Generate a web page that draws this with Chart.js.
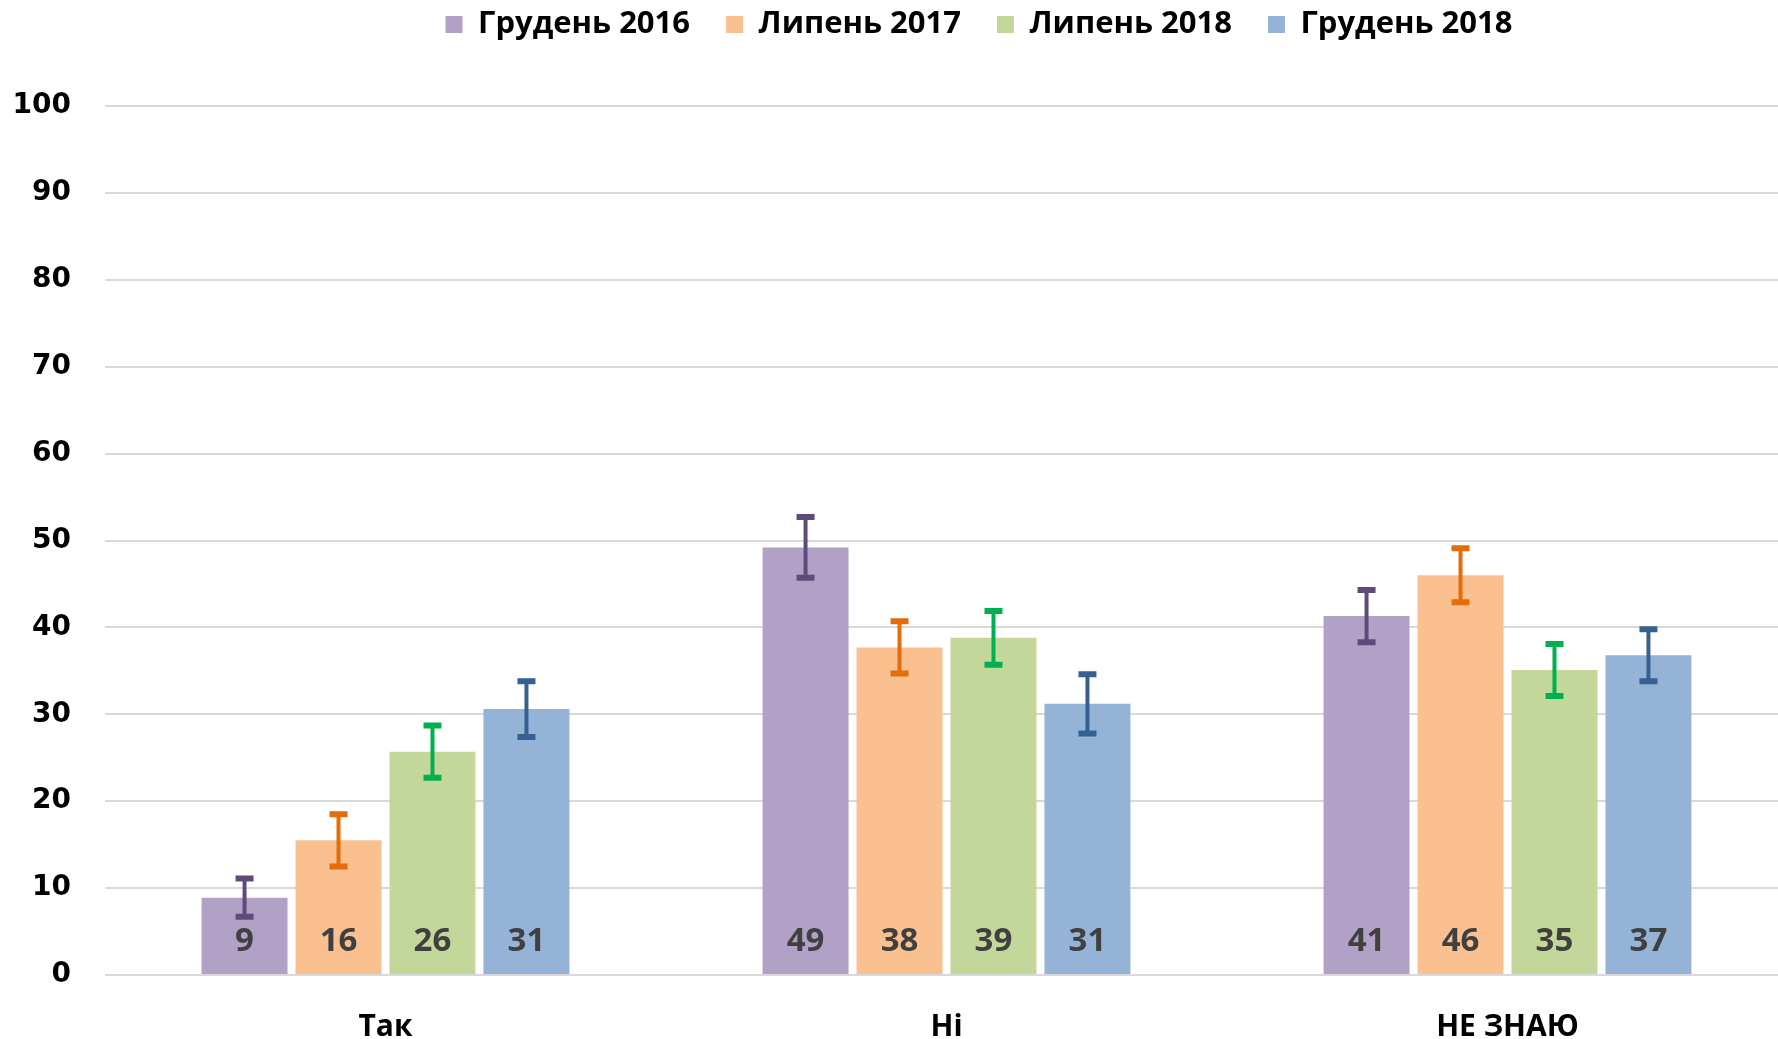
<!DOCTYPE html>
<html>
<head>
<meta charset="utf-8">
<script src="https://cdn.jsdelivr.net/npm/chart.js@4.4.1/dist/chart.umd.min.js"></script>
<style>
html,body{margin:0;padding:0;background:#fff;overflow:hidden}
#wrap{width:1792px;height:1039px}
</style>
</head>
<body>
<div id="wrap"><canvas id="chart-1"></canvas></div>
<script>
const categories=['Так','Ні','НЕ ЗНАЮ'];
const seriesNames=['Грудень 2016','Липень 2017','Липень 2018','Грудень 2018'];
const dec2016=[8.9,49.2,41.3];
const jul2017=[15.5,37.7,46.0];
const jul2018=[25.7,38.8,35.1];
const dec2018=[30.6,31.2,36.8];
const err2016=[2.2,3.5,3.0];
const err2017=[3.0,3.0,3.1];
const err2018=[3.0,3.1,3.0];
const errDec2018=[3.2,3.4,3.0];
const yTicks=[0,10,20,30,40,50,60,70,80,90,100];

const fills=['#b2a1c7','#fac090','#c4d79b','#95b3d7'];
const errColors=['#604a7b','#e46c0a','#00b050','#366092'];

// error bars drawn from the value arrays through the y scale
const errorBars={
  id:'errorBars',
  afterDatasetsDraw(chart){
    const {ctx,scales:{y}}=chart;
    chart.data.datasets.forEach((ds,i)=>{
      chart.getDatasetMeta(i).data.forEach((bar,j)=>{
        const v=ds.data[j],e=ds.err[j];
        const top=y.getPixelForValue(v+e),bot=y.getPixelForValue(v-e);
        ctx.save();
        ctx.strokeStyle=errColors[i];
        ctx.lineWidth=4;
        ctx.beginPath();ctx.moveTo(bar.x,top);ctx.lineTo(bar.x,bot);ctx.stroke();
        ctx.lineWidth=6;
        ctx.beginPath();
        ctx.moveTo(bar.x-9,top);ctx.lineTo(bar.x+9,top);
        ctx.moveTo(bar.x-9,bot);ctx.lineTo(bar.x+9,bot);
        ctx.stroke();
        ctx.restore();
      });
    });
  }
};

// rounded value near the base of each bar
const barLabels={
  id:'barLabels',
  afterDatasetsDraw(chart){
    const {ctx,scales:{y}}=chart;
    const base=y.getPixelForValue(0);
    ctx.save();
    ctx.font='bold 33px "Open Sans"';
    ctx.fillStyle='#404040';
    ctx.textAlign='center';
    ctx.textBaseline='middle';
    chart.data.datasets.forEach((ds,i)=>{
      chart.getDatasetMeta(i).data.forEach((bar,j)=>{
        ctx.fillText(Math.round(ds.data[j]),bar.x,base-33);
      });
    });
    ctx.restore();
  }
};

const legendShift={
  id:'legendShift',
  afterLayout(chart){
    const l=chart.legend;
    l.left+=78;l.right+=78;l.top-=56;l.bottom-=56;
  }
};

document.addEventListener('DOMContentLoaded',()=>{
  const ctx=document.getElementById('chart-1');
  const vals=[dec2016,jul2017,jul2018,dec2018];
  const errs=[err2016,err2017,err2018,errDec2018];
  const data={
    labels:categories,
    datasets:seriesNames.map((name,i)=>({
      label:name,data:vals[i],err:errs[i],
      backgroundColor:fills[i],borderWidth:0,
      categoryPercentage:.67,barPercentage:.915
    }))
  };
  const options={
    responsive:true,
    maintainAspectRatio:false,
    animation:false,
    layout:{padding:{left:14,right:4,top:29,bottom:0}},
    plugins:{
      legend:{
        position:'top',
        labels:{boxWidth:17,boxHeight:17,padding:36,color:'#000',font:{family:'"Open Sans"',weight:'bold',size:31}}
      },
      tooltip:{enabled:false}
    },
    scales:{
      x:{
        grid:{display:false,drawTicks:false},
        border:{display:false},
        afterFit(axis){axis.height=64;},
        ticks:{color:'#000',padding:34,font:{family:'"Open Sans"',weight:'bold',size:30}}
      },
      y:{
        min:0,max:100,
        afterBuildTicks(axis){axis.ticks=yTicks.map(v=>({value:v}));},
        afterFit(axis){axis.width=91;},
        grid:{color:'#d9d9d9',lineWidth:2,drawTicks:false},
        border:{display:false},
        ticks:{color:'#000',padding:34,font:{family:'"DejaVu Sans"',weight:'bold',size:28}}
      }
    }
  };
  new Chart(ctx.getContext('2d'),{type:'bar',data,options,plugins:[errorBars,barLabels,legendShift]});
});
</script>
</body>
</html>
